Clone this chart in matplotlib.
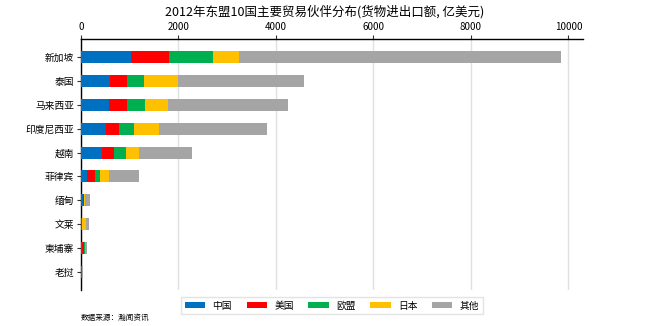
import matplotlib
matplotlib.use('Agg')
import matplotlib.pyplot as plt
import numpy as np

plt.rcParams['font.family'] = ['Noto Sans CJK SC', 'DejaVu Sans']

countries = ['新加坡', '泰国', '马来西亚', '印度尼西亚', '越南', '菲律宾', '缅甸', '文莱', '柬埔寨', '老挝']
partners = ['中国', '美国', '欧盟', '日本', '其他']
colors = ['#0070C0', '#FF0000', '#00B050', '#FFC000', '#A5A5A5']

# trade volume by partner, 100 million USD
china = [1035, 605, 578, 509, 427, 133, 50, 15, 30, 17]
usa = [775, 342, 369, 267, 240, 157, 3, 5, 25, 1]
eu = [897, 343, 370, 302, 253, 96, 10, 10, 20, 3]
japan = [528, 691, 465, 520, 260, 179, 10, 65, 10, 2]
other = [6610, 2594, 2458, 2217, 1102, 615, 110, 70, 45, 10]

series = [china, usa, eu, japan, other]

fig = plt.figure(figsize=(6.5, 3.26), dpi=100)
ax = fig.add_axes([81 / 650, 1 - 290 / 326, (583 - 81) / 650, (290 - 39) / 326])

y = np.arange(len(countries))
left = np.zeros(len(countries))
for name, vals, c in zip(partners, series, colors):
    ax.barh(y, vals, left=left, height=0.5, color=c, label=name, zorder=3)
    left += np.array(vals)

ax.set_ylim(len(countries) - 0.25, -0.75)
ax.set_xlim(0, 10300)
ax.set_yticks(y)
ax.set_yticklabels(countries, fontsize=7)
ax.set_xticks(range(0, 10001, 2000))
ax.xaxis.tick_top()
ax.tick_params(axis='x', labelsize=7, length=3, pad=2, color='#333333')
ax.tick_params(axis='y', length=3, pad=2, color='#333333')
ax.grid(axis='x', color='#E0E0E0', linewidth=1, zorder=0)

ax.spines['right'].set_visible(False)
ax.spines['bottom'].set_visible(False)
ax.spines['top'].set_linewidth(1)
ax.spines['left'].set_linewidth(1)

fig.suptitle('2012年东盟10国主要贸易伙伴分布(货物进出口额, 亿美元)', fontsize=9, y=0.985)

ax.legend(loc='upper center', bbox_to_anchor=(0.5, -0.01), ncol=5, fontsize=7,
          frameon=True, edgecolor='#DDDDDD', handlelength=2.1, handleheight=0.6,
          handletextpad=0.75, columnspacing=1.5, borderpad=0.35, fancybox=False)

fig.text(81 / 650, 1 - 318 / 326, '数据来源：瀚闻资讯', fontsize=5.5, va='center')

fig.savefig('out.png', dpi=100)
